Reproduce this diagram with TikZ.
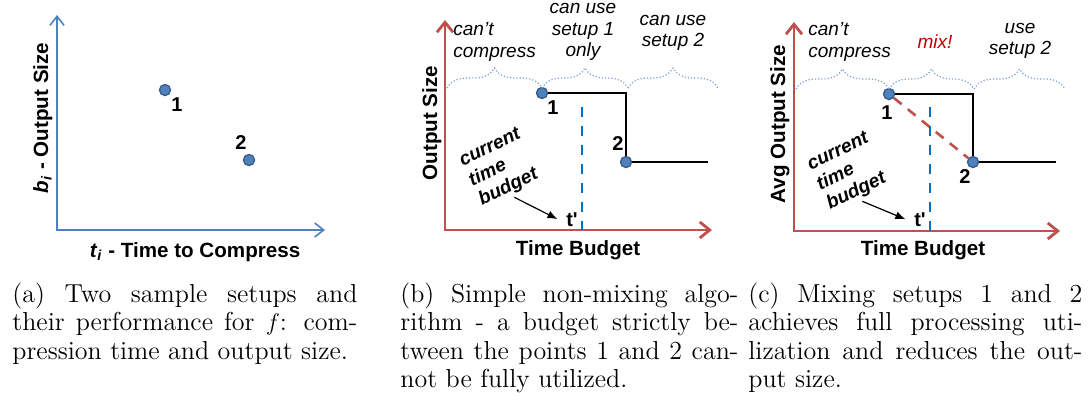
\documentclass[tikz,border=0pt]{standalone}
\usepackage{fontspec}
\newfontfamily\arialfont{Liberation Sans}
\usetikzlibrary{arrows.meta,decorations.pathreplacing,scopes}

\definecolor{axisblue}{RGB}{79,129,189}
\definecolor{axisred}{RGB}{192,80,77}
\definecolor{dotedge}{RGB}{56,93,138}
\definecolor{bracecol}{RGB}{120,160,215}
\definecolor{budgetblue}{RGB}{0,112,192}
\definecolor{mixred}{RGB}{192,0,0}

\newcommand\capfont{\fontsize{13}{14.25}\selectfont\hyphenpenalty=10000 \tolerance=9999 }

\tikzset{
  blueaxis/.style={draw=axisblue, line width=0.8pt, >={Straight Barb[length=4.5pt,width=7pt]}, <->},
  redaxis/.style={draw=axisred, line width=1.4pt, >={Straight Barb[length=5pt,width=8pt]}, <->},
  setupdot/.style={circle, fill=axisblue, draw=dotedge, line width=0.7pt, minimum size=5.5pt, inner sep=0pt},
  stepline/.style={line width=1.15pt},
  mixline/.style={draw=axisred, line width=1.3pt, dash pattern=on 5pt off 4pt},
  budgetline/.style={draw=budgetblue, line width=1.3pt, dash pattern=on 5pt off 4.5pt},
  brc/.style={draw=bracecol, line width=0.6pt, densely dotted, decorate, decoration={brace, amplitude=10pt}},
  numlbl/.style={font=\arialfont\bfseries\fontsize{10}{12}\selectfont},
  axislbl/.style={anchor=base, font=\arialfont\bfseries\fontsize{10.3}{12}\selectfont},
  toplbl/.style={inner sep=0pt, align=center, font=\arialfont\itshape\fontsize{9.5}{10.8}\selectfont},
  budgetlbl/.style={rotate=26, inner sep=1pt, align=left, font=\arialfont\bfseries\itshape\fontsize{9.5}{11}\selectfont},
  budgetarrow/.style={line width=0.6pt, -{Latex[length=5pt,width=4pt]}, shorten >=1pt},
  capt/.style={anchor=base west, inner sep=0pt, align=justify, font=\capfont},
}

\begin{document}
\begin{tikzpicture}[x=0.5pt, y=-0.5pt]
  \useasboundingbox (0,0) rectangle (1090,404);

  % (a) two setups
  \coordinate (aO) at (57,230);
  \coordinate (aY) at (57,15);
  \coordinate (aX) at (325,230);
  \draw[blueaxis] (aY) -- (aO) -- (aX);
  \node[setupdot] (a1) at (165,90) {};
  \node[setupdot] (a2) at (249,160) {};
  { [numlbl]
    \node (a1n) at (177,105) {1};
    \node (a2n) at (241,143) {2};
  }
  { [axislbl]
    \node[rotate=90] (ayl) at (48,118) {\textit{b}\textsubscript{\textit{i}} - Output Size};
    \node (axl) at (195,257) {\textit{t}\textsubscript{\textit{i}} - Time to Compress};
  }

  % (b) non-mixing
  \coordinate (bO) at (445,230);
  \coordinate (bY) at (445,20);
  \coordinate (bX) at (712,230);
  \draw[redaxis] (bY) -- (bO) -- (bX);
  \coordinate (bE) at (708,162);
  \node[setupdot] (b1) at (542,93) {};
  \node[setupdot] (b2) at (626,162) {};
  \draw[stepline] (b1) -| (b2) -- (bE);
  \coordinate (bt) at (582,107);
  \draw[budgetline] (bt) -- (bt |- bO);

  \coordinate (bB0) at (447,88);
  \coordinate (bB1) at (542,88);
  \coordinate (bB2) at (628,88);
  \coordinate (bB3) at (718,88);
  \draw[brc] (bB0) -- (bB1);
  \draw[brc] (bB1) -- (bB2);
  \draw[brc] (bB2) -- (bB3);
  { [toplbl]
    \node[anchor=west, align=left] (bl1) at (453,42) {can’t\\compress};
    \node (bl2) at (583,32) {can use\\setup 1\\only};
    \node (bl3) at (673,33) {can use\\setup 2};
  }

  { [numlbl]
    \node (b1n) at (553,108) {1};
    \node (b2n) at (618,144) {2};
    \node (btp) at (572,220) {t'};
  }
  \node[budgetlbl] (bbud) at (500,168) {current\\time\\budget};
  \draw[budgetarrow] (bbud.south) -- (btp.west);
  { [axislbl]
    \node (bxl) at (578,255) {Time Budget};
    \node[rotate=90] (byl) at (437,123) {Output Size};
  }

  % (c) mixing
  \coordinate (cO) at (794,231);
  \coordinate (cY) at (794,22);
  \coordinate (cX) at (1060,231);
  \draw[redaxis] (cY) -- (cO) -- (cX);
  \coordinate (cE) at (1056,162);
  \node[setupdot] (c1) at (889,94) {};
  \node[setupdot] (c2) at (973,162) {};
  \draw[stepline] (c1) -| (c2) -- (cE);
  \draw[mixline] (c1) -- (c2);
  \coordinate (ct) at (930,107);
  \draw[budgetline] (ct) -- (ct |- cO);

  \coordinate (cB0) at (796,89);
  \coordinate (cB1) at (889,89);
  \coordinate (cB2) at (974,89);
  \coordinate (cB3) at (1065,89);
  \draw[brc] (cB0) -- (cB1);
  \draw[brc] (cB1) -- (cB2);
  \draw[brc] (cB2) -- (cB3);
  { [toplbl]
    \node[anchor=west, align=left] (cl1) at (808,42) {can’t\\compress};
    \node[text=mixred] (cl2) at (935,42) {mix!};
    \node (cl3) at (1020,41) {use\\setup 2};
  }

  { [numlbl]
    \node (c1n) at (887,113) {1};
    \node (c2n) at (965,177) {2};
    \node (ctp) at (920,220) {t'};
  }
  \node[budgetlbl] (cbud) at (848,172) {current\\time\\budget};
  \draw[budgetarrow] (cbud.south) -- (ctp.west);
  { [axislbl]
    \node (cxl) at (923,255) {Time Budget};
    \node[rotate=90] (cyl) at (785,124) {Avg Output Size};
  }

  % captions
  { [capt]
    \node[text width=172.5pt] (acap) at (12,302) {(a) Two sample setups and\linebreak their performance for $f$: com-\linebreak pression time and output size.};
    \node[text width=169pt] (bcap) at (400,302) {(b) Simple non-mixing algo-\linebreak rithm - a budget strictly be-\linebreak tween the points 1 and 2 can-\linebreak not be fully utilized.};
    \node[text width=167pt] (ccap) at (748,302) {(c) Mixing setups 1 and 2\linebreak achieves full processing uti-\linebreak lization and reduces the out-\linebreak put size.};
  }
\end{tikzpicture}
\end{document}
